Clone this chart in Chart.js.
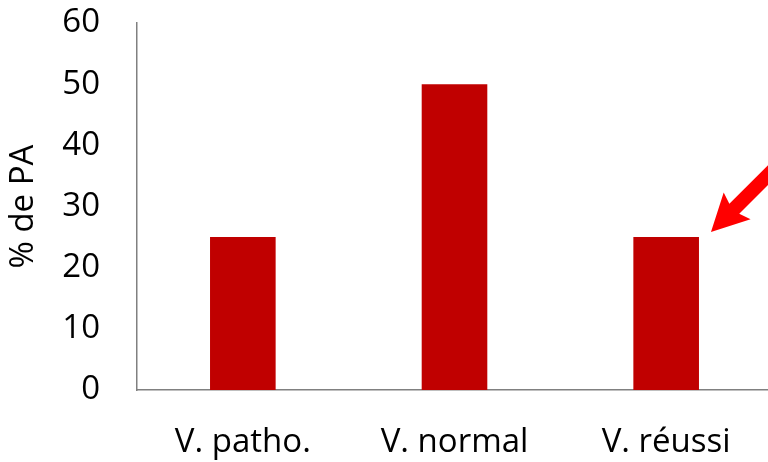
<!DOCTYPE html>
<html>
<head>
<meta charset="utf-8">
<script src="https://cdn.jsdelivr.net/npm/chart.js@4"></script>
<style>
  html, body { margin: 0; padding: 0; background: #fff; overflow: hidden; }
  #wrap { width: 776px; height: 462px; }
</style>
</head>
<body>
<div id="wrap"><canvas id="chart" width="776" height="462"></canvas></div>
<script>
const categories = ["V. patho.", "V. normal", "V. réussi"];
const values = [25, 50, 25];
const yTicks = [0, 10, 20, 30, 40, 50, 60];
const arrowTarget = 2; // index of the bar the red arrow points at

// red arrow pointing at the top right corner of a bar
const arrowPlugin = {
  id: 'arrow',
  afterDraw(chart) {
    const ctx = chart.ctx;
    const bar = chart.getDatasetMeta(0).data[arrowTarget];
    const tipX = bar.x + bar.width / 2 + 12;
    const tipY = chart.scales.y.getPixelForValue(values[arrowTarget]) - 5;
    ctx.save();
    ctx.translate(tipX, tipY);
    ctx.rotate(-Math.PI / 4);
    ctx.fillStyle = '#FF0000';
    ctx.beginPath();
    ctx.moveTo(0, 0);
    ctx.lineTo(37, -19);
    ctx.lineTo(33, -7);
    ctx.lineTo(120, -7);
    ctx.lineTo(120, 7);
    ctx.lineTo(33, 7);
    ctx.lineTo(37, 19);
    ctx.closePath();
    ctx.fill();
    ctx.restore();
  }
};

const font = { family: 'Open Sans', size: 33 };

new Chart(document.getElementById('chart'), {
  type: 'bar',
  data: {
    labels: categories,
    datasets: [{
      data: values,
      backgroundColor: '#C00000',
      barPercentage: 0.31,
      categoryPercentage: 1
    }]
  },
  options: {
    responsive: false,
    animation: false,
    layout: { padding: { top: 23, right: 4, left: 0, bottom: 0 } },
    plugins: { legend: { display: false }, tooltip: { enabled: false } },
    scales: {
      x: {
        grid: { display: false, drawTicks: false },
        border: { display: true, color: '#808080', width: 1.5 },
        ticks: { color: '#000', padding: 33, font },
        afterFit(axis) { axis.height = 72; }
      },
      y: {
        min: 0, max: 60,
        afterBuildTicks(axis) { axis.ticks = yTicks.map(v => ({ value: v })); },
        grid: { display: false, drawTicks: false },
        border: { display: true, color: '#808080', width: 1.5 },
        ticks: { color: '#000', padding: 37, font },
        title: { display: true, text: '% de PA', color: '#000', padding: 4, font },
        afterFit(axis) { axis.width = 137; axis.paddingTop = 0; axis.paddingBottom = 0; }
      }
    }
  },
  plugins: [arrowPlugin]
});
</script>
</body>
</html>
